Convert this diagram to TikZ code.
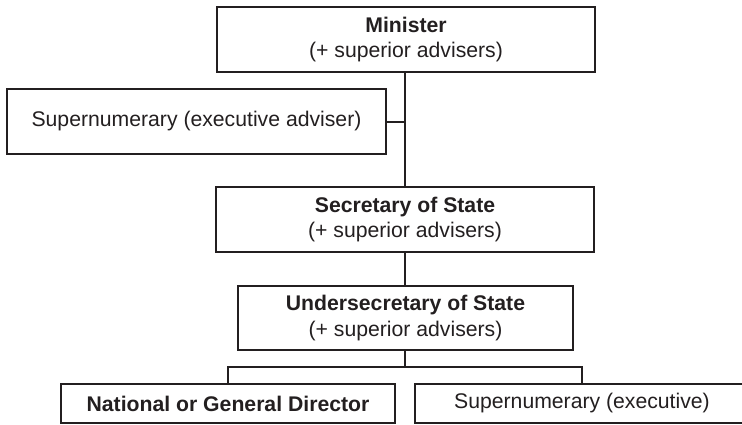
\documentclass[tikz,border=0pt]{standalone}
\usepackage{fontspec}
\setmainfont{Liberation Sans}
\definecolor{ink}{HTML}{231F20}
\begin{document}
\begin{tikzpicture}[x=1pt,y=-1pt,
  box/.style={draw=ink, line width=2pt, rectangle, align=center, text=ink,
    font=\fontsize{21.2}{25.5}\selectfont, inner sep=0pt},
  link/.style={draw=ink, line width=2pt}]
\clip (0,0) rectangle (742,424);
\fill[white] (0,0) rectangle (742,424);
\node[box, minimum width=378pt, minimum height=65pt] (min) at (406,39.5)
  {\textbf{Minister}\\(+ superior advisers)};
\node[box, minimum width=379pt, minimum height=65pt] (sup) at (196.5,121.5)
  {Supernumerary (executive adviser)};
\node[box, minimum width=378pt, minimum height=65pt] (sec) at (405,219.5)
  {\textbf{Secretary of State}\\(+ superior advisers)};
\node[box, minimum width=335pt, minimum height=64pt] (und) at (405.5,318)
  {\textbf{Undersecretary of State}\\(+ superior advisers)};
\node[box, minimum width=334pt, minimum height=39pt] (nat) at (228,403.5)
  {\textbf{National or General Director}};
\node[box, minimum width=334pt, minimum height=39pt] (sex) at (582,403.5)
  {Supernumerary (executive)};
\coordinate (bus) at (405,367);
\draw[link] (min.south -| bus) -- (sec.north -| bus);
\draw[link] (sup.east) -- (sup.east -| bus);
\draw[link] (sec.south -| bus) -- (und.north -| bus);
\draw[link] (und.south -| bus) -- (bus);
\draw[link] (nat.north) -- (nat.north |- bus) -- (sex.north |- bus) -- (sex.north);
\end{tikzpicture}
\end{document}
